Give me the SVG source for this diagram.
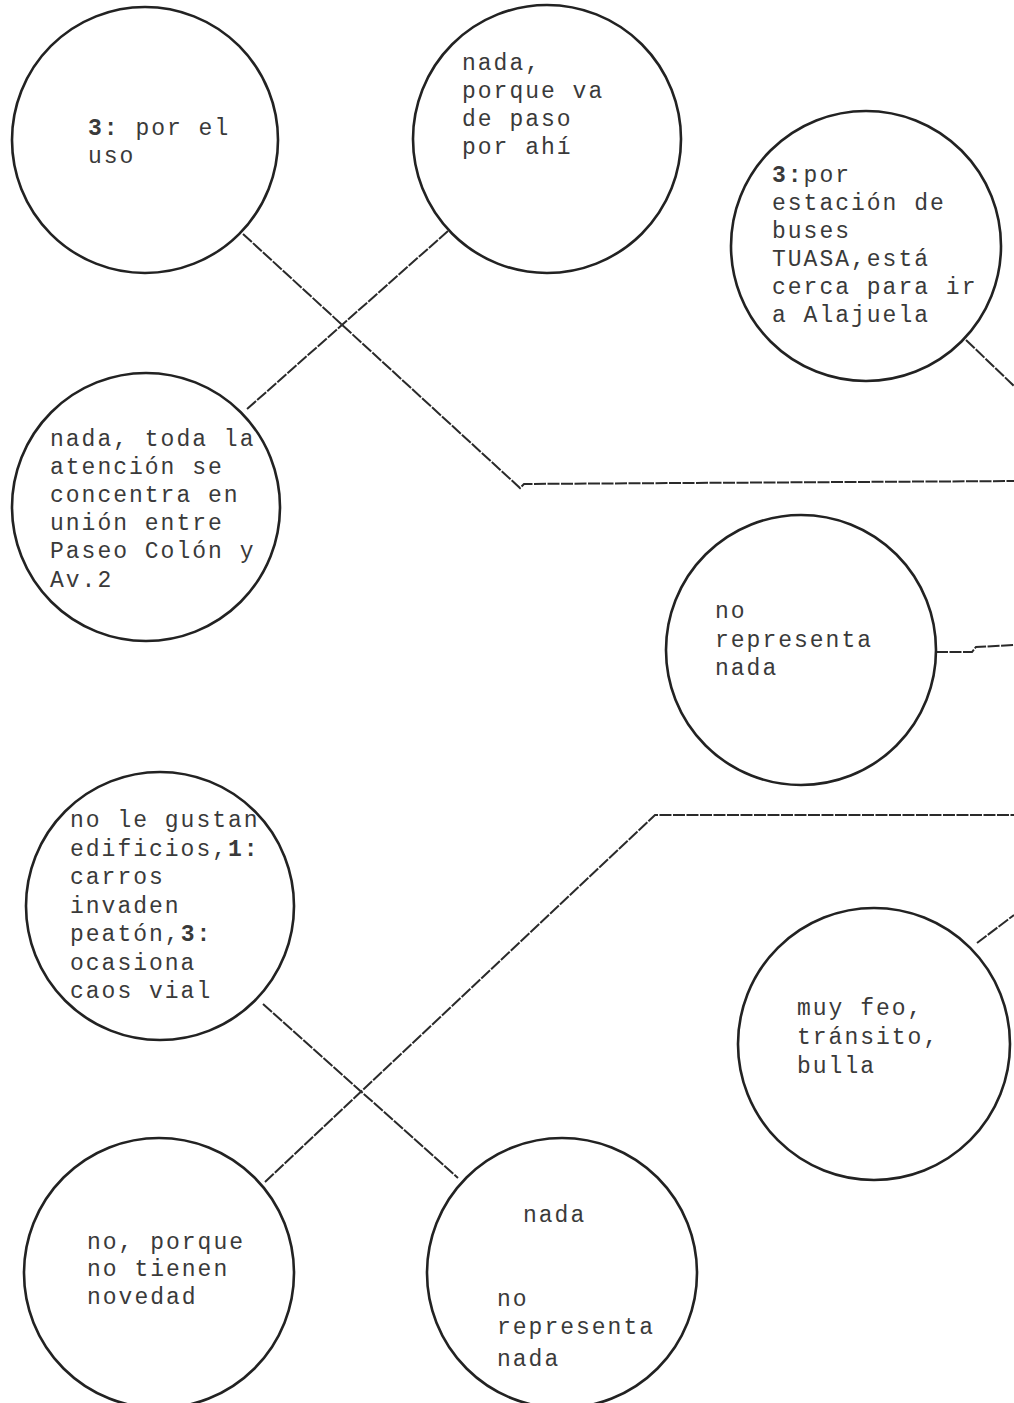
<svg xmlns="http://www.w3.org/2000/svg" width="1014" height="1403" viewBox="0 0 1014 1403">
<style>
.n{fill:#fff;stroke:#222;stroke-width:2.6}
.t{font-family:"Liberation Mono","Courier New",monospace;font-size:23px;letter-spacing:2px;fill:#3a3a3a}
.b{font-weight:bold}
.c{fill:none;stroke:#2a2a2a;stroke-width:2;stroke-dasharray:12 1.5}
</style>
<rect width="1014" height="1403" fill="#fff"/>
<g id="connectors">
<polyline class="c" points="243,234 520,488 524,484 1014,481"/>
<polyline class="c" points="448,231 246,410"/>
<polyline class="c" points="966,340 1014,386"/>
<polyline class="c" points="936,652 972,652 976,647 1014,645"/>
<polyline class="c" points="263,1004 458,1178"/>
<polyline class="c" points="265,1182 655,815 1014,815"/>
<polyline class="c" points="977,943 1014,915"/>
</g>
<g id="n1"><circle class="n" cx="145" cy="140" r="133"/>
<text class="t" x="88" y="135"><tspan class="b">3:</tspan> por el</text>
<text class="t" x="88" y="163">uso</text></g>
<g id="n2"><circle class="n" cx="547" cy="139" r="134"/>
<text class="t" x="462" y="70">nada,</text>
<text class="t" x="462" y="98">porque va</text>
<text class="t" x="462" y="126">de paso</text>
<text class="t" x="462" y="154">por ahí</text></g>
<g id="n3"><circle class="n" cx="866" cy="246" r="135"/>
<text class="t" x="772" y="182"><tspan class="b">3:</tspan>por</text>
<text class="t" x="772" y="210">estación de</text>
<text class="t" x="772" y="238">buses</text>
<text class="t" x="772" y="266">TUASA,está</text>
<text class="t" x="772" y="294">cerca para ir</text>
<text class="t" x="772" y="322">a Alajuela</text></g>
<g id="n4"><circle class="n" cx="146" cy="507" r="134"/>
<text class="t" x="50" y="446">nada, toda la</text>
<text class="t" x="50" y="474">atención se</text>
<text class="t" x="50" y="502">concentra en</text>
<text class="t" x="50" y="530">unión entre</text>
<text class="t" x="50" y="558">Paseo Colón y</text>
<text class="t" x="50" y="587">Av.2</text></g>
<g id="n5"><circle class="n" cx="801" cy="650" r="135"/>
<text class="t" x="715" y="618">no</text>
<text class="t" x="715" y="647">representa</text>
<text class="t" x="715" y="675">nada</text></g>
<g id="n6"><circle class="n" cx="160" cy="906" r="134"/>
<text class="t" x="70" y="827">no le gustan</text>
<text class="t" x="70" y="856">edificios,<tspan class="b">1:</tspan></text>
<text class="t" x="70" y="884">carros</text>
<text class="t" x="70" y="913">invaden</text>
<text class="t" x="70" y="941">peatón,<tspan class="b">3:</tspan></text>
<text class="t" x="70" y="970">ocasiona</text>
<text class="t" x="70" y="998">caos vial</text></g>
<g id="n7"><circle class="n" cx="874" cy="1044" r="136"/>
<text class="t" x="797" y="1015">muy feo,</text>
<text class="t" x="797" y="1044">tránsito,</text>
<text class="t" x="797" y="1073">bulla</text></g>
<g id="n8"><circle class="n" cx="159" cy="1273" r="135"/>
<text class="t" x="87" y="1249">no, porque</text>
<text class="t" x="87" y="1276">no tienen</text>
<text class="t" x="87" y="1304">novedad</text></g>
<g id="n9"><circle class="n" cx="562" cy="1273" r="135"/>
<text class="t" x="523" y="1222">nada</text>
<text class="t" x="497" y="1306">no</text>
<text class="t" x="497" y="1334">representa</text>
<text class="t" x="497" y="1366">nada</text></g>
</svg>
